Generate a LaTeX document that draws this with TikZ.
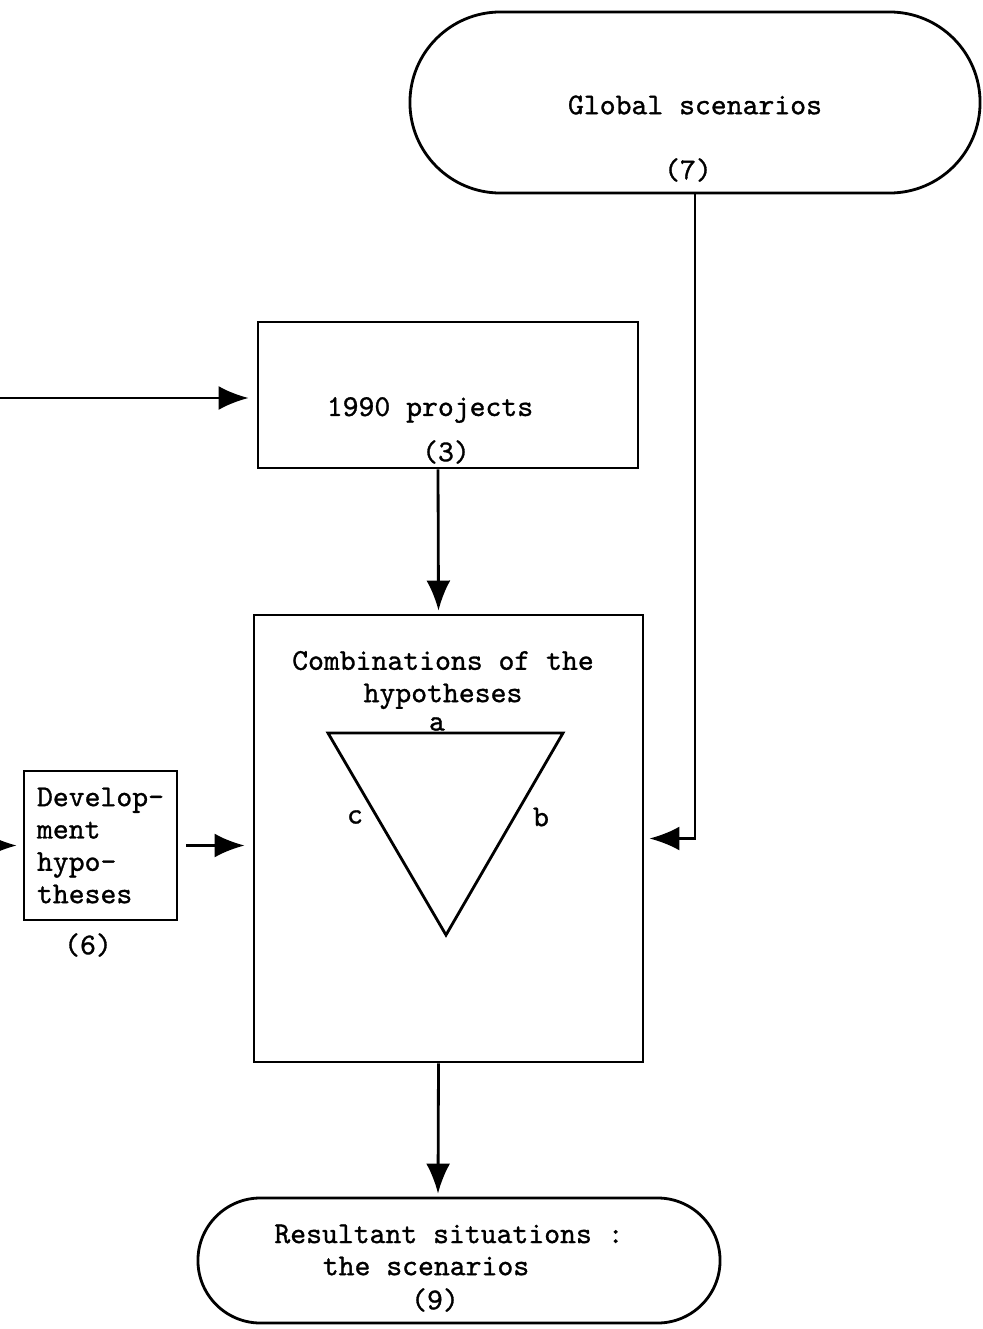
\documentclass[tikz,border=0pt]{standalone}
\usepackage{fontspec}
\setmonofont[FakeBold=1]{lmmono10-regular.otf}
\usetikzlibrary{arrows.meta,shapes.misc,positioning}

\begin{document}
\begin{tikzpicture}[->,
            >={Latex[length=0.75cm,width=0.6cm]},
            x=0.025cm,
            y=-0.025cm,
            line width=2pt,
            font=\ttfamily\fontsize{21.5}{23}\selectfont,
            block/.style={draw,rectangle,inner sep=0pt},
            oval/.style={draw,rounded rectangle,inner sep=0pt},
            lbl/.style={inner sep=0pt}]

        \useasboundingbox (0,0) rectangle (983,1329);

        % shapes
        \node[oval,minimum width=14.25cm,minimum height=4.525cm] (glob)  at (695,102.5) {};
        \node[block,minimum width=9.5cm,minimum height=3.65cm]   (proj)  at (448,395)   {};
        \node[block,minimum width=9.725cm,minimum height=11.175cm] (combo) at (448.5,838.5) {};
        \node[block,minimum width=3.825cm,minimum height=3.725cm,align=left]
                                                                  (dev)   at (100.5,845.5)
              {Develop-\\ment\\hypo-\\theses};
        \node[oval,minimum width=13.05cm,minimum height=3.125cm] (res)   at (459,1260.5) {};

        % texts
        \node[lbl] (globtxt) at (695,105)  {Global scenarios};
        \node[lbl] (globnum) at (688,170)  {(7)};
        \node[lbl] (projtxt) at (430,410)  {1990 projects};
        \node[lbl] (projnum) at (446,452)  {(3)};
        \node[lbl,align=center] (combotxt) at (443,680) {Combinations of the\\hypotheses};
        \node[lbl] (devnum)  at (88,945)   {(6)};
        \node[lbl] (restxt1) at (449,1234) {Resultant situations :};
        \node[lbl] (restxt2) at (426,1266) {the scenarios};
        \node[lbl] (resnum)  at (435,1300) {(9)};

        % triangle
        \coordinate (ta) at (328,733);
        \coordinate (tb) at (563,733);
        \coordinate (tc) at (446,935);
        \draw[-,line join=miter] (ta) -- (tb) -- (tc) -- cycle;
        \node[lbl] (sidea) at (437,724) {a};
        \node[lbl] (sideb) at (541,817) {b};
        \node[lbl] (sidec) at (355,817) {c};

        % connectors
        \coordinate (inproj) at (0,398);
        \coordinate (indev)  at (0,845.5);
        \draw (inproj) -- ([shift={(-8,0)}]proj.west |- inproj);
        \draw (indev) -- ([shift={(-6,0)}]dev.west);
        \draw ([shift={(8,0)}]dev.east) -- ([shift={(-8,0)}]combo.west |- dev.east);
        \draw ([shift={(-10,0)}]proj.south) -- ([shift={(-10,-3)}]combo.north);
        \draw (glob.south) |- ([shift={(5,0)}]combo.east);
        \draw ([shift={(-10,0)}]combo.south) -- ([shift={(-21,-3)}]res.north);

\end{tikzpicture}
\end{document}
